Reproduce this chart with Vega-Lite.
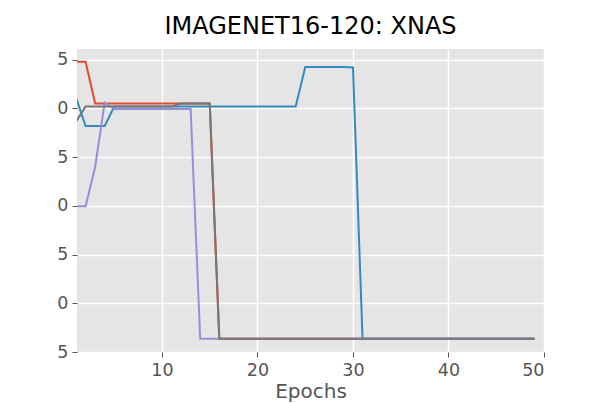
{
  "$schema": "https://vega.github.io/schema/vega-lite/v6.json",
  "width": 467,
  "height": 303,
  "autosize": {"type": "none"},
  "padding": {"left": 77, "top": 49, "right": 62, "bottom": 51},
  "background": "white",
  "title": {
    "text": "IMAGENET16-120: XNAS",
    "font": "DejaVu Sans",
    "fontSize": 24,
    "fontWeight": "normal",
    "color": "#000000",
    "anchor": "middle",
    "baseline": "alphabetic",
    "offset": -9
  },
  "config": {
    "view": {"fill": "#E5E5E5", "stroke": null},
    "axis": {
      "domain": false,
      "grid": true,
      "gridColor": "#FFFFFF",
      "gridWidth": 1.5,
      "tickColor": "#555555",
      "tickSize": 5,
      "tickWidth": 1,
      "labelFont": "DejaVu Sans",
      "labelFontSize": 17.5,
      "labelColor": "#555555",
      "titleFont": "DejaVu Sans",
      "titleFontSize": 20,
      "titleFontWeight": "normal",
      "titleColor": "#555555"
    }
  },
  "data": {
    "values": [
      {"s":"A","e":1,"v":44.8},{"s":"A","e":2,"v":44.8},{"s":"A","e":3,"v":40.5},{"s":"A","e":4,"v":40.5},{"s":"A","e":5,"v":40.5},{"s":"A","e":6,"v":40.5},{"s":"A","e":7,"v":40.5},{"s":"A","e":8,"v":40.5},{"s":"A","e":9,"v":40.5},{"s":"A","e":10,"v":40.5},{"s":"A","e":11,"v":40.5},{"s":"A","e":12,"v":40.5},{"s":"A","e":13,"v":40.5},{"s":"A","e":14,"v":40.5},{"s":"A","e":15,"v":40.5},{"s":"A","e":16,"v":16.35},{"s":"A","e":17,"v":16.35},{"s":"A","e":18,"v":16.35},{"s":"A","e":19,"v":16.35},{"s":"A","e":20,"v":16.35},{"s":"A","e":21,"v":16.35},{"s":"A","e":22,"v":16.35},{"s":"A","e":23,"v":16.35},{"s":"A","e":24,"v":16.35},{"s":"A","e":25,"v":16.35},{"s":"A","e":26,"v":16.35},{"s":"A","e":27,"v":16.35},{"s":"A","e":28,"v":16.35},{"s":"A","e":29,"v":16.35},{"s":"A","e":30,"v":16.35},{"s":"A","e":31,"v":16.35},{"s":"A","e":32,"v":16.35},{"s":"A","e":33,"v":16.35},{"s":"A","e":34,"v":16.35},{"s":"A","e":35,"v":16.35},{"s":"A","e":36,"v":16.35},{"s":"A","e":37,"v":16.35},{"s":"A","e":38,"v":16.35},{"s":"A","e":39,"v":16.35},{"s":"A","e":40,"v":16.35},{"s":"A","e":41,"v":16.35},{"s":"A","e":42,"v":16.35},{"s":"A","e":43,"v":16.35},{"s":"A","e":44,"v":16.35},{"s":"A","e":45,"v":16.35},{"s":"A","e":46,"v":16.35},{"s":"A","e":47,"v":16.35},{"s":"A","e":48,"v":16.35},{"s":"A","e":49,"v":16.35},
      {"s":"B","e":1,"v":41.1},{"s":"B","e":2,"v":38.2},{"s":"B","e":3,"v":38.2},{"s":"B","e":4,"v":38.2},{"s":"B","e":5,"v":40.2},{"s":"B","e":6,"v":40.2},{"s":"B","e":7,"v":40.2},{"s":"B","e":8,"v":40.2},{"s":"B","e":9,"v":40.2},{"s":"B","e":10,"v":40.2},{"s":"B","e":11,"v":40.2},{"s":"B","e":12,"v":40.2},{"s":"B","e":13,"v":40.2},{"s":"B","e":14,"v":40.2},{"s":"B","e":15,"v":40.2},{"s":"B","e":16,"v":40.2},{"s":"B","e":17,"v":40.2},{"s":"B","e":18,"v":40.2},{"s":"B","e":19,"v":40.2},{"s":"B","e":20,"v":40.2},{"s":"B","e":21,"v":40.2},{"s":"B","e":22,"v":40.2},{"s":"B","e":23,"v":40.2},{"s":"B","e":24,"v":40.2},{"s":"B","e":25,"v":44.25},{"s":"B","e":26,"v":44.25},{"s":"B","e":27,"v":44.25},{"s":"B","e":28,"v":44.25},{"s":"B","e":29,"v":44.25},{"s":"B","e":30,"v":44.2},{"s":"B","e":31,"v":16.35},{"s":"B","e":32,"v":16.35},{"s":"B","e":33,"v":16.35},{"s":"B","e":34,"v":16.35},{"s":"B","e":35,"v":16.35},{"s":"B","e":36,"v":16.35},{"s":"B","e":37,"v":16.35},{"s":"B","e":38,"v":16.35},{"s":"B","e":39,"v":16.35},{"s":"B","e":40,"v":16.35},{"s":"B","e":41,"v":16.35},{"s":"B","e":42,"v":16.35},{"s":"B","e":43,"v":16.35},{"s":"B","e":44,"v":16.35},{"s":"B","e":45,"v":16.35},{"s":"B","e":46,"v":16.35},{"s":"B","e":47,"v":16.35},{"s":"B","e":48,"v":16.35},{"s":"B","e":49,"v":16.35},
      {"s":"C","e":1,"v":29.95},{"s":"C","e":2,"v":29.95},{"s":"C","e":3,"v":34.0},{"s":"C","e":4,"v":40.6},{"s":"C","e":5,"v":39.95},{"s":"C","e":6,"v":39.95},{"s":"C","e":7,"v":39.95},{"s":"C","e":8,"v":39.95},{"s":"C","e":9,"v":39.95},{"s":"C","e":10,"v":39.95},{"s":"C","e":11,"v":39.95},{"s":"C","e":12,"v":39.95},{"s":"C","e":13,"v":39.95},{"s":"C","e":14,"v":16.35},{"s":"C","e":15,"v":16.35},{"s":"C","e":16,"v":16.35},{"s":"C","e":17,"v":16.35},{"s":"C","e":18,"v":16.35},{"s":"C","e":19,"v":16.35},{"s":"C","e":20,"v":16.35},{"s":"C","e":21,"v":16.35},{"s":"C","e":22,"v":16.35},{"s":"C","e":23,"v":16.35},{"s":"C","e":24,"v":16.35},{"s":"C","e":25,"v":16.35},{"s":"C","e":26,"v":16.35},{"s":"C","e":27,"v":16.35},{"s":"C","e":28,"v":16.35},{"s":"C","e":29,"v":16.35},{"s":"C","e":30,"v":16.35},{"s":"C","e":31,"v":16.35},{"s":"C","e":32,"v":16.35},{"s":"C","e":33,"v":16.35},{"s":"C","e":34,"v":16.35},{"s":"C","e":35,"v":16.35},{"s":"C","e":36,"v":16.35},{"s":"C","e":37,"v":16.35},{"s":"C","e":38,"v":16.35},{"s":"C","e":39,"v":16.35},{"s":"C","e":40,"v":16.35},{"s":"C","e":41,"v":16.35},{"s":"C","e":42,"v":16.35},{"s":"C","e":43,"v":16.35},{"s":"C","e":44,"v":16.35},{"s":"C","e":45,"v":16.35},{"s":"C","e":46,"v":16.35},{"s":"C","e":47,"v":16.35},{"s":"C","e":48,"v":16.35},{"s":"C","e":49,"v":16.35},
      {"s":"D","e":1,"v":38.65},{"s":"D","e":2,"v":40.2},{"s":"D","e":3,"v":40.2},{"s":"D","e":4,"v":40.2},{"s":"D","e":5,"v":40.2},{"s":"D","e":6,"v":40.2},{"s":"D","e":7,"v":40.2},{"s":"D","e":8,"v":40.2},{"s":"D","e":9,"v":40.2},{"s":"D","e":10,"v":40.2},{"s":"D","e":11,"v":40.2},{"s":"D","e":12,"v":40.5},{"s":"D","e":13,"v":40.5},{"s":"D","e":14,"v":40.5},{"s":"D","e":15,"v":40.5},{"s":"D","e":16,"v":16.35},{"s":"D","e":17,"v":16.35},{"s":"D","e":18,"v":16.35},{"s":"D","e":19,"v":16.35},{"s":"D","e":20,"v":16.35},{"s":"D","e":21,"v":16.35},{"s":"D","e":22,"v":16.35},{"s":"D","e":23,"v":16.35},{"s":"D","e":24,"v":16.35},{"s":"D","e":25,"v":16.35},{"s":"D","e":26,"v":16.35},{"s":"D","e":27,"v":16.35},{"s":"D","e":28,"v":16.35},{"s":"D","e":29,"v":16.35},{"s":"D","e":30,"v":16.35},{"s":"D","e":31,"v":16.35},{"s":"D","e":32,"v":16.35},{"s":"D","e":33,"v":16.35},{"s":"D","e":34,"v":16.35},{"s":"D","e":35,"v":16.35},{"s":"D","e":36,"v":16.35},{"s":"D","e":37,"v":16.35},{"s":"D","e":38,"v":16.35},{"s":"D","e":39,"v":16.35},{"s":"D","e":40,"v":16.35},{"s":"D","e":41,"v":16.35},{"s":"D","e":42,"v":16.35},{"s":"D","e":43,"v":16.35},{"s":"D","e":44,"v":16.35},{"s":"D","e":45,"v":16.35},{"s":"D","e":46,"v":16.35},{"s":"D","e":47,"v":16.35},{"s":"D","e":48,"v":16.35},{"s":"D","e":49,"v":16.35}
    ]
  },
  "mark": {"type": "line", "strokeWidth": 2, "clip": true},
  "encoding": {
    "x": {
      "field": "e",
      "type": "quantitative",
      "scale": {"domain": [1.1, 50], "nice": false, "zero": false},
      "axis": {"values": [10, 20, 30, 40, 50], "title": "Epochs", "titlePadding": 3, "labelPadding": 4}
    },
    "y": {
      "field": "v",
      "type": "quantitative",
      "scale": {"domain": [15, 46.1], "nice": false, "zero": false},
      "axis": {"values": [15, 20, 25, 30, 35, 40, 45], "title": null, "labelExpr": "slice(datum.label, -1)", "labelPadding": 4}
    },
    "color": {
      "field": "s",
      "type": "nominal",
      "scale": {"domain": ["A", "B", "C", "D"], "range": ["#E24A33", "#348ABD", "#988ED5", "#777777"]},
      "legend": null
    },
    "order": {"field": "e", "type": "quantitative"}
  }
}
